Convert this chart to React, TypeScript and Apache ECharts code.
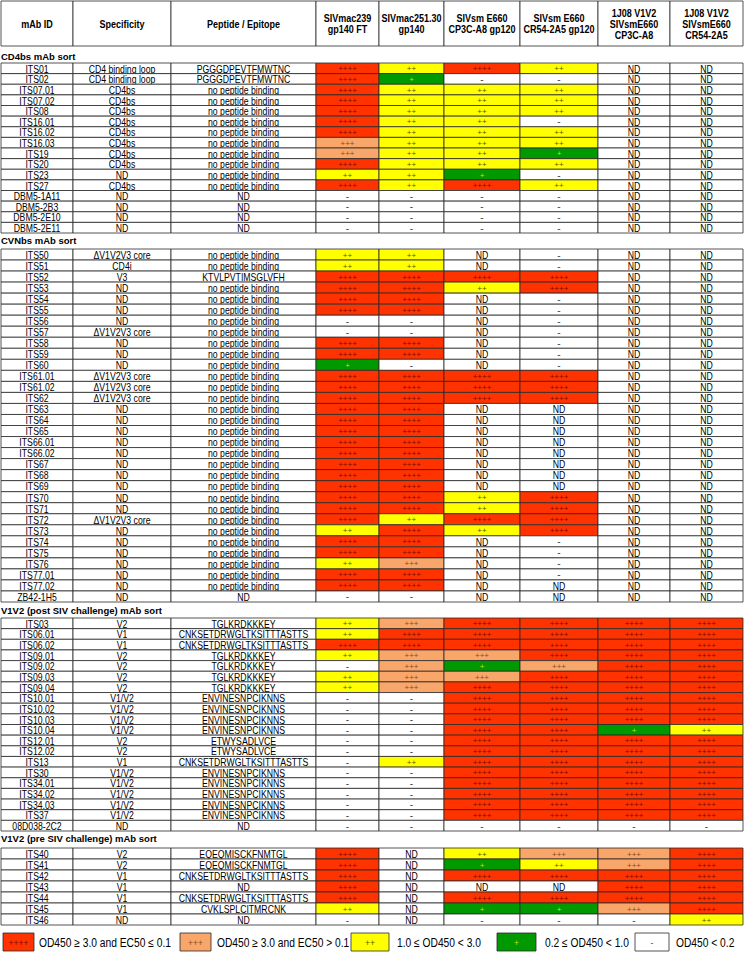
import React, { useEffect, useRef } from "react";
import * as echarts from "echarts";

// ---------- DATA ----------
const columnHeaders = [
  "mAb ID",
  "Specificity",
  "Peptide / Epitope",
  "SIVmac239\ngp140 FT",
  "SIVmac251.30\ngp140",
  "SIVsm E660\nCP3C-A8 gp120",
  "SIVsm E660\nCR54-2A5 gp120",
  "1J08 V1V2\nSIVsmE660\nCP3C-A8",
  "1J08 V1V2\nSIVsmE660\nCR54-2A5",
];

const sectionTitles = [
  "CD4bs mAb sort",
  "CVNbs mAb sort",
  "V1V2 (post SIV challenge) mAb sort",
  "V1V2 (pre SIV challenge) mAb sort",
];

// score codes: 4 = ++++, 3 = +++, 2 = ++, 1 = +, 0 = -, N = ND
const cd4bsIds = ["ITS01", "ITS02", "ITS07.01", "ITS07.02", "ITS08", "ITS16.01", "ITS16.02", "ITS16.03", "ITS19", "ITS20", "ITS23", "ITS27", "DBM5-1A11", "DBM5-2B3", "DBM5-2E10", "DBM5-2E11"];
const cd4bsSpecificity = ["CD4 binding loop", "CD4 binding loop", "CD4bs", "CD4bs", "CD4bs", "CD4bs", "CD4bs", "CD4bs", "CD4bs", "CD4bs", "ND", "CD4bs", "ND", "ND", "ND", "ND"];
const cd4bsEpitopes = ["PGGGDPEVTFMWTNC", "PGGGDPEVTFMWTNC", "no peptide binding", "no peptide binding", "no peptide binding", "no peptide binding", "no peptide binding", "no peptide binding", "no peptide binding", "no peptide binding", "no peptide binding", "no peptide binding", "ND", "ND", "ND", "ND"];
const cd4bsScores = ["4242NN", "4100NN", "4222NN", "4222NN", "4222NN", "4220NN", "4222NN", "3222NN", "3221NN", "4222NN", "2210NN", "4242NN", "0000NN", "0000NN", "0000NN", "0000NN"];

const cvnbsIds = ["ITS50", "ITS51", "ITS52", "ITS53", "ITS54", "ITS55", "ITS56", "ITS57", "ITS58", "ITS59", "ITS60", "ITS61.01", "ITS61.02", "ITS62", "ITS63", "ITS64", "ITS65", "ITS66.01", "ITS66.02", "ITS67", "ITS68", "ITS69", "ITS70", "ITS71", "ITS72", "ITS73", "ITS74", "ITS75", "ITS76", "ITS77.01", "ITS77.02", "ZB42-1H5"];
const cvnbsSpecificity = ["ΔV1V2V3 core", "CD4i", "V3", "ND", "ND", "ND", "ND", "ΔV1V2V3 core", "ND", "ND", "ND", "ΔV1V2V3 core", "ΔV1V2V3 core", "ΔV1V2V3 core", "ND", "ND", "ND", "ND", "ND", "ND", "ND", "ND", "ND", "ND", "ΔV1V2V3 core", "ND", "ND", "ND", "ND", "ND", "ND", "ND"];
const cvnbsEpitopes = ["no peptide binding", "no peptide binding", "KTVLPVTIMSGLVFH", "no peptide binding", "no peptide binding", "no peptide binding", "no peptide binding", "no peptide binding", "no peptide binding", "no peptide binding", "no peptide binding", "no peptide binding", "no peptide binding", "no peptide binding", "no peptide binding", "no peptide binding", "no peptide binding", "no peptide binding", "no peptide binding", "no peptide binding", "no peptide binding", "no peptide binding", "no peptide binding", "no peptide binding", "no peptide binding", "no peptide binding", "no peptide binding", "no peptide binding", "no peptide binding", "no peptide binding", "no peptide binding", "ND"];
const cvnbsScores = ["22N0NN", "22N0NN", "4444NN", "4424NN", "44N0NN", "44N0NN", "00N0NN", "00N0NN", "44N0NN", "44N0NN", "10N0NN", "4444NN", "4444NN", "4444NN", "44NNNN", "44NNNN", "44NNNN", "44NNNN", "44NNNN", "44NNNN", "44NNNN", "44NNNN", "4424NN", "4424NN", "4244NN", "2424NN", "44N0NN", "44N0NN", "23N0NN", "44N0NN", "44NNNN", "00NNNN"];

const postIds = ["ITS03", "ITS06.01", "ITS06.02", "ITS09.01", "ITS09.02", "ITS09.03", "ITS09.04", "ITS10.01", "ITS10.02", "ITS10.03", "ITS10.04", "ITS12.01", "ITS12.02", "ITS13", "ITS30", "ITS34.01", "ITS34.02", "ITS34.03", "ITS37", "08D038-2C2"];
const postSpecificity = ["V2", "V1", "V1", "V2", "V2", "V2", "V2", "V1/V2", "V1/V2", "V1/V2", "V1/V2", "V2", "V2", "V1", "V1/V2", "V1/V2", "V1/V2", "V1/V2", "V1/V2", "ND"];
const postEpitopes = ["TGLKRDKKKEY", "CNKSETDRWGLTKSITTTASTTS", "CNKSETDRWGLTKSITTTASTTS", "TGLKRDKKKEY", "TGLKRDKKKEY", "TGLKRDKKKEY", "TGLKRDKKKEY", "ENVINESNPCIKNNS", "ENVINESNPCIKNNS", "ENVINESNPCIKNNS", "ENVINESNPCIKNNS", "ETWYSADLVCE", "ETWYSADLVCE", "CNKSETDRWGLTKSITTTASTTS", "ENVINESNPCIKNNS", "ENVINESNPCIKNNS", "ENVINESNPCIKNNS", "ENVINESNPCIKNNS", "ENVINESNPCIKNNS", "ND"];
const postScores = ["234444", "244444", "444444", "233444", "031344", "233444", "234444", "004444", "004444", "004444", "004412", "004444", "004444", "024444", "004444", "004444", "004444", "004444", "004444", "000000"];

const preIds = ["ITS40", "ITS41", "ITS42", "ITS43", "ITS44", "ITS45", "ITS46"];
const preSpecificity = ["V2", "V2", "V1", "V1", "V1", "V1", "ND"];
const preEpitopes = ["EQEQMISCKFNMTGL", "EQEQMISCKFNMTGL", "CNKSETDRWGLTKSITTTASTTS", "ND", "CNKSETDRWGLTKSITTTASTTS", "CVKLSPLCITMRCNK", "ND"];
const preScores = ["4N2334", "4N1234", "4N4444", "4NNN44", "4N4444", "2N1134", "0N0002"];

const legendCodes = ["4", "3", "2", "1", "0"];
const legendLabels = ["OD450 ≥ 3.0 and EC50 ≤ 0.1", "OD450 ≥ 3.0 and EC50 > 0.1", "1.0 ≤ OD450 < 3.0", "0.2 ≤ OD450 < 1.0", "OD450 < 0.2"];

// ---------- STYLE / LAYOUT ----------
const FONT = "'Liberation Sans',Arial,sans-serif";
const NARROW = 0.82; // horizontal squeeze imitating a narrow face
const LINE = "#2a2a2a";
const TEXT = "#000000";
const codeSymbol: Record<string, string> = { "4": "++++", "3": "+++", "2": "++", "1": "+", "0": "-", N: "ND" };
const codeFill: Record<string, string> = { "4": "#FF3300", "3": "#F8A66A", "2": "#FFFF00", "1": "#009A00", "0": "#FFFFFF", N: "#FFFFFF" };
const codeText: Record<string, string> = { "4": "#7a0a00", "3": "#8a4a20", "2": "#5a5a00", "1": "#c8e000", "0": "#444444", N: TEXT };

const colEdges = [1, 73, 171, 316, 379, 444, 520, 598, 670, 743];
const WIDTH = 744;
const headerBox = { top: 1, height: 45 };
const sectionBoxes = [
  { top: 63, height: 170, labelTop: 51 },
  { top: 249, height: 353, labelTop: 235 },
  { top: 618, height: 213, labelTop: 605 },
  { top: 848, height: 77, labelTop: 833 },
];
const legendBox = { top: 933, height: 18 };
const legendBoxLeft = [3, 180, 351, 497, 635];
const legendBoxRight = [34, 211, 389, 536, 669];
const legendTextLeft = [39, 217, 397, 545, 676];

type Cell = { col: number; row: number; text: string; fill: string; color: string; size: number; bold?: boolean; sx: number };

const sections = [
  { ids: cd4bsIds, spec: cd4bsSpecificity, epi: cd4bsEpitopes, scores: cd4bsScores },
  { ids: cvnbsIds, spec: cvnbsSpecificity, epi: cvnbsEpitopes, scores: cvnbsScores },
  { ids: postIds, spec: postSpecificity, epi: postEpitopes, scores: postScores },
  { ids: preIds, spec: preSpecificity, epi: preEpitopes, scores: preScores },
];

function buildCells(s: (typeof sections)[number]): Cell[] {
  const cells: Cell[] = [];
  s.ids.forEach((id, r) => {
    const texts = [id, s.spec[r], s.epi[r]];
    texts.forEach((t, c) => cells.push({ col: c, row: r, text: t, fill: "#FFFFFF", color: TEXT, size: 10.6, sx: NARROW }));
    s.scores[r].split("").forEach((code, k) => {
      cells.push({
        col: 3 + k,
        row: r,
        text: codeSymbol[code],
        fill: codeFill[code],
        color: codeText[code],
        size: code === "N" ? 10.6 : code === "0" ? 10 : 8,
        sx: code === "N" ? NARROW : 1,
      });
    });
  });
  return cells;
}

function cellRenderer(cells: Cell[]) {
  return (params: any, api: any) => {
    const c = cells[params.dataIndex];
    const row = api.value(1);
    const p0 = api.coord([colEdges[c.col], row]);
    const p1 = api.coord([colEdges[c.col + 1], row]);
    const h = api.size([0, 1])[1];
    return {
      type: "group",
      children: [
        {
          type: "rect",
          shape: { x: p0[0], y: p0[1] - h / 2, width: p1[0] - p0[0], height: h },
          style: { fill: c.fill, stroke: LINE, lineWidth: 0.8 },
        },
        {
          type: "text",
          x: (p0[0] + p1[0]) / 2,
          y: p0[1] + 0.5,
          scaleX: c.sx,
          style: {
            text: c.text,
            x: 0,
            y: 0,
            align: "center",
            verticalAlign: "middle",
            fontFamily: FONT,
            fontSize: c.size,
            fontWeight: c.bold ? "bold" : "normal",
            lineHeight: 11,
            fill: c.color,
          },
        },
      ],
    };
  };
}

function buildOption() {
  const grids: any[] = [];
  const xAxes: any[] = [];
  const yAxes: any[] = [];
  const series: any[] = [];
  const titles: any[] = [];

  const addGrid = (top: number, height: number, cats: string[]) => {
    const gi = grids.length;
    grids.push({ left: 0, width: WIDTH, top, height, containLabel: false });
    xAxes.push({ gridIndex: gi, type: "value", min: 0, max: WIDTH, show: false });
    yAxes.push({ gridIndex: gi, type: "category", data: cats, inverse: true, show: false });
    return gi;
  };

  // header
  const hg = addGrid(headerBox.top, headerBox.height, ["header"]);
  const headerCells: Cell[] = columnHeaders.map((t, c) => ({
    col: c, row: 0, text: t, fill: "#FFFFFF", color: TEXT, size: 10.5, bold: true, sx: 0.86,
  }));
  series.push({
    type: "custom", xAxisIndex: hg, yAxisIndex: hg, silent: true,
    data: headerCells.map((c) => [c.col, c.row]),
    renderItem: cellRenderer(headerCells),
  });

  sections.forEach((s, i) => {
    const box = sectionBoxes[i];
    const gi = addGrid(box.top, box.height, s.ids);
    const cells = buildCells(s);
    series.push({
      type: "custom", xAxisIndex: gi, yAxisIndex: gi, silent: true,
      data: cells.map((c) => [c.col, c.row]),
      renderItem: cellRenderer(cells),
    });
    titles.push({
      text: sectionTitles[i], left: 1, top: box.labelTop, padding: 0,
      textStyle: { fontFamily: FONT, fontSize: 9.5, fontWeight: "bold", color: TEXT },
    });
  });

  // legend
  const lg = addGrid(legendBox.top, legendBox.height, ["legend"]);
  series.push({
    type: "custom", xAxisIndex: lg, yAxisIndex: lg, silent: true,
    data: legendCodes.map((_, i) => [i, 0]),
    renderItem: (params: any, api: any) => {
      const i = api.value(0);
      const code = legendCodes[i];
      const a = api.coord([legendBoxLeft[i], 0]);
      const b = api.coord([legendBoxRight[i], 0]);
      const t = api.coord([legendTextLeft[i], 0]);
      const h = api.size([0, 1])[1];
      return {
        type: "group",
        children: [
          { type: "rect", shape: { x: a[0], y: a[1] - h / 2, width: b[0] - a[0], height: h }, style: { fill: codeFill[code], stroke: LINE, lineWidth: 0.8 } },
          { type: "text", style: { text: codeSymbol[code], x: (a[0] + b[0]) / 2, y: a[1] + 0.5, align: "center", verticalAlign: "middle", fontFamily: FONT, fontSize: 8.5, fill: codeText[code] } },
          { type: "text", x: t[0], y: t[1] + 0.5, scaleX: NARROW, style: { text: legendLabels[i], x: 0, y: 0, align: "left", verticalAlign: "middle", fontFamily: FONT, fontSize: 12.5, fill: TEXT } },
        ],
      };
    },
  });

  return {
    animation: false,
    backgroundColor: "#FFFFFF",
    title: titles,
    grid: grids,
    xAxis: xAxes,
    yAxis: yAxes,
    series,
  };
}

export default function App() {
  const ref = useRef<HTMLDivElement>(null);
  useEffect(() => {
    if (!ref.current) return;
    const chart = echarts.init(ref.current, undefined, { renderer: "svg" });
    chart.setOption(buildOption() as any);
    return () => chart.dispose();
  }, []);
  return <div ref={ref} style={{ position: "absolute", left: 0, top: 0, width: 744, height: 959 }} />;
}
